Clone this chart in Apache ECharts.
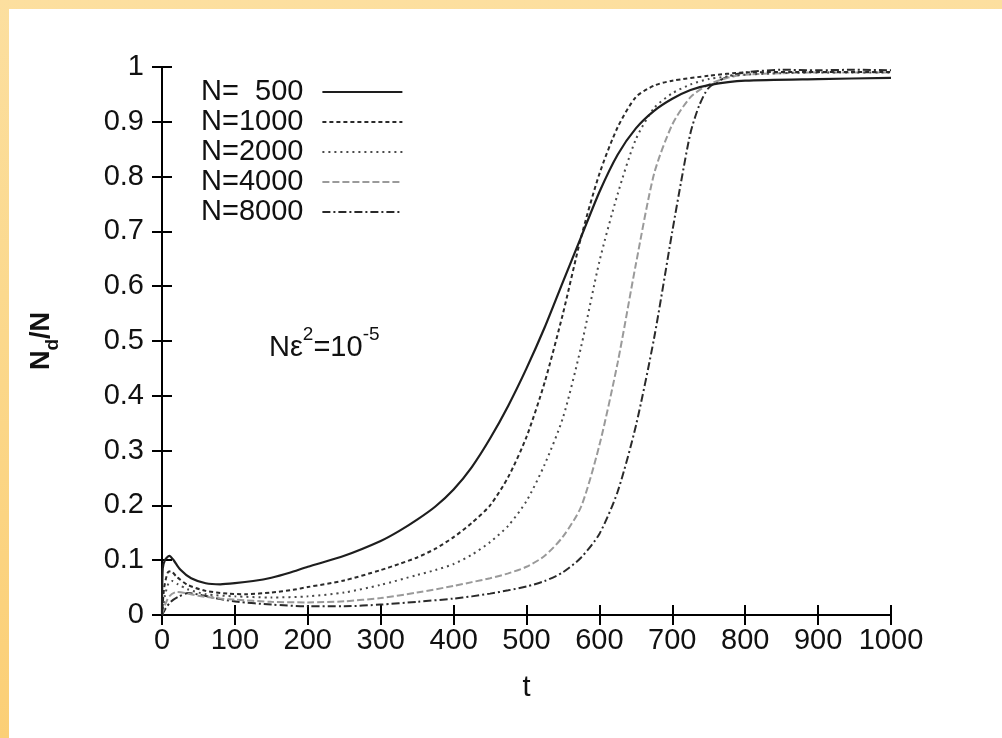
<!DOCTYPE html>
<html>
<head>
<meta charset="utf-8">
<script src="https://cdn.jsdelivr.net/npm/echarts@6/dist/echarts.min.js"></script>
<style>
  html, body { margin: 0; padding: 0; }
  body {
    width: 1002px; height: 738px; overflow: hidden; position: relative;
    background: linear-gradient(180deg, #fcdf9f 0%, #fbd98e 40%, #fbcf76 100%);
  }
  #panel { position: absolute; left: 9px; top: 9px; right: 0; bottom: 0; background: #ffffff; }
  #chart { position: absolute; left: 0; top: 0; width: 1002px; height: 738px; }
</style>
</head>
<body>
<div id="panel"></div>
<div id="chart"></div>
<script>
// Fraction N_d/N versus time t for several system sizes N
const seriesNames = ['N=  500', 'N=1000', 'N=2000', 'N=4000', 'N=8000'];

const n500 = [[0,0],[1,0.085],[4,0.1],[10,0.108],[16,0.1],[25,0.083],[40,0.067],[60,0.058],[80,0.056],[100,0.058],
  [125,0.062],[150,0.068],[175,0.077],[200,0.088],[250,0.108],[300,0.135],[325,0.153],[350,0.174],[375,0.198],
  [400,0.229],[425,0.27],[450,0.322],[475,0.382],[500,0.45],[525,0.525],[550,0.608],[575,0.69],[600,0.772],
  [625,0.84],[650,0.888],[675,0.92],[700,0.942],[725,0.958],[750,0.967],[800,0.975],[900,0.978],[1000,0.98]];

const n1000 = [[0,0],[3,0.05],[8,0.078],[12,0.08],[20,0.07],[35,0.055],[60,0.044],[90,0.039],[116,0.038],
  [150,0.041],[180,0.046],[200,0.051],[250,0.063],[300,0.082],[325,0.093],[350,0.105],[375,0.121],[400,0.142],
  [425,0.168],[450,0.2],[475,0.252],[500,0.325],[525,0.425],[550,0.55],[575,0.69],[600,0.805],[625,0.89],
  [650,0.945],[675,0.966],[700,0.975],[750,0.984],[800,0.99],[900,0.991],[1000,0.991]];

const n2000 = [[0,0],[4,0.035],[9,0.058],[14,0.062],[22,0.056],[35,0.047],[60,0.038],[100,0.034],[150,0.032],
  [200,0.034],[250,0.041],[300,0.055],[350,0.073],[375,0.082],[400,0.093],[425,0.11],[450,0.133],[475,0.163],
  [500,0.208],[525,0.275],[550,0.36],[575,0.49],[600,0.645],[625,0.768],[650,0.868],[675,0.925],[700,0.952],
  [725,0.968],[750,0.978],[800,0.986],[900,0.99],[1000,0.99]];

const n4000 = [[0,0],[4,0.018],[10,0.034],[20,0.042],[32,0.04],[50,0.035],[80,0.03],[100,0.028],[150,0.024],
  [200,0.023],[250,0.025],[300,0.031],[350,0.041],[400,0.053],[425,0.06],[450,0.067],[475,0.076],[500,0.088],
  [525,0.108],[550,0.143],[575,0.198],[600,0.31],[625,0.46],[650,0.64],[675,0.805],[700,0.895],[725,0.945],
  [750,0.968],[775,0.98],[800,0.986],[900,0.99],[1000,0.99]];

const n8000 = [[0,0],[5,0.012],[12,0.024],[22,0.033],[36,0.04],[55,0.036],[80,0.029],[104,0.024],[150,0.019],
  [200,0.016],[250,0.016],[300,0.019],[350,0.024],[400,0.03],[425,0.034],[450,0.039],[475,0.045],[500,0.052],
  [525,0.062],[550,0.078],[575,0.105],[600,0.148],[625,0.225],[650,0.345],[675,0.505],[700,0.70],[712,0.79],
  [725,0.88],[737,0.93],[750,0.962],[775,0.982],[800,0.99],[850,0.995],[900,0.994],[950,0.995],[1000,0.994]];

const seriesData = [n500, n1000, n2000, n4000, n8000];

// gnuplot-like monochrome line styles
const lineStyles = [
  { color: '#1e1e1e', width: 2.2, type: 'solid' },
  { color: '#2a2a2a', width: 2, type: [4, 3] },
  { color: '#4a4a4a', width: 2, type: [2, 4] },
  { color: '#9a9a9a', width: 2, type: [7, 3] },
  { color: '#2a2a2a', width: 2, type: [8, 3, 2, 3] }
];

const FONT = '"Liberation Sans", Arial, sans-serif';
const FS = 29;

const frameLine = { show: true, lineStyle: { color: '#000', width: 2 } };
const ticksIn = { show: true, inside: true, length: 10, lineStyle: { color: '#000', width: 2 } };

const chart = echarts.init(document.getElementById('chart'), null, { renderer: 'canvas' });

chart.setOption({
  backgroundColor: 'transparent',
  animation: false,
  grid: { left: 162, top: 67, right: 111, bottom: 123, containLabel: false },
  legend: {
    orient: 'vertical',
    left: 196,
    top: 72,
    align: 'right',
    icon: 'inherit',
    itemWidth: 80,
    itemHeight: 14,
    itemGap: 0,
    selectedMode: false,
    data: seriesNames,
    itemStyle: { color: 'transparent', borderWidth: 0 },
    textStyle: { fontFamily: FONT, fontSize: FS, color: '#111', lineHeight: 30, padding: [0, 14, 0, 0] }
  },
  xAxis: [
    {
      type: 'value', min: 0, max: 1000, interval: 100, position: 'bottom',
      name: 't', nameLocation: 'middle', nameGap: 58,
      nameTextStyle: { fontFamily: FONT, fontSize: FS, color: '#111' },
      axisLine: frameLine, axisTick: ticksIn, splitLine: { show: false },
      axisLabel: { fontFamily: FONT, fontSize: FS, color: '#111', margin: 11, formatter: v => String(v) }
    },
    {
      type: 'value', min: 0, max: 1000, interval: 100, position: 'top',
      axisLine: frameLine, axisTick: ticksIn, splitLine: { show: false },
      axisLabel: { show: false }
    }
  ],
  yAxis: [
    {
      type: 'value', min: 0, max: 1, interval: 0.1, position: 'left',
      name: '{m|N}{s|d}{m|/N}', nameLocation: 'middle', nameGap: 100,
      nameTextStyle: {
        fontFamily: FONT, color: '#111',
        rich: {
          m: { fontFamily: FONT, fontSize: 27, color: '#111', fontWeight: 'bold', verticalAlign: 'top', lineHeight: 34 },
          s: { fontFamily: FONT, fontSize: 19, color: '#111', fontWeight: 'bold', verticalAlign: 'bottom', lineHeight: 34 }
        }
      },
      axisLine: frameLine, axisTick: ticksIn, splitLine: { show: false },
      axisLabel: {
        fontFamily: FONT, fontSize: FS, color: '#111', margin: 18,
        formatter: v => (Math.abs(v) < 1e-9 ? '0' : Math.abs(v - 1) < 1e-9 ? '1' : v.toFixed(1))
      }
    },
    {
      type: 'value', min: 0, max: 1, interval: 0.1, position: 'right',
      axisLine: frameLine, axisTick: ticksIn, splitLine: { show: false },
      axisLabel: { show: false }
    }
  ],
  graphic: [
    {
      type: 'text',
      left: 269,
      top: 325,
      style: {
        text: '{m|Nε}{p|2}{m|=10}{p|-5}',
        rich: {
          m: { fontFamily: FONT, fontSize: 29, fill: '#111', verticalAlign: 'bottom', lineHeight: 37 },
          p: { fontFamily: FONT, fontSize: 19, fill: '#111', verticalAlign: 'top', lineHeight: 37 }
        }
      }
    }
  ],
  series: seriesData.map((d, i) => ({
    name: seriesNames[i],
    type: 'line',
    xAxisIndex: 0,
    yAxisIndex: 0,
    data: d,
    showSymbol: false,
    symbol: 'none',
    smooth: 0.25,
    lineStyle: lineStyles[i],
    itemStyle: { color: lineStyles[i].color },
    z: 5 - i
  }))
});
</script>
</body>
</html>
